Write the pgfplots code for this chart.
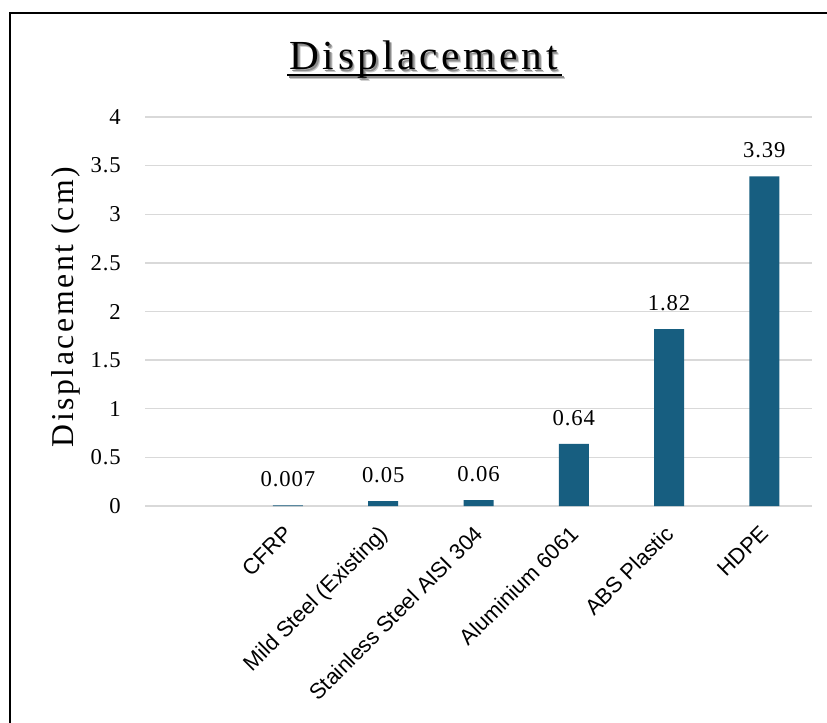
\documentclass[border=0pt]{standalone}
\usepackage{fontspec}
\setmainfont{Liberation Serif}
\newfontfamily\numfont[LetterSpace=4]{Liberation Serif}
\newfontfamily\titlefont[LetterSpace=9]{Liberation Serif}
\newfontfamily\labfont[LetterSpace=8]{Liberation Serif}
\newfontfamily\catfont{Liberation Sans}
\usepackage{pgfplots}
\pgfplotsset{compat=1.18}
\usepackage{pgfplotstable}
\definecolor{barblue}{HTML}{175E80}
\definecolor{gridgray}{HTML}{D9D9D9}
\pgfplotstableread{
x y lab
1 0.007 0.007
2 0.05 0.05
3 0.06 0.06
4 0.64 0.64
5 1.82 1.82
6 3.39 3.39
}\datatable
\begin{document}
\begin{tikzpicture}
\useasboundingbox (0,0) rectangle (620.25pt,541.5pt);
\fill[white] (0,0) rectangle (620.25pt,541.5pt);
\draw[line width=1.5pt] (7.5pt,-10pt) -- (7.5pt,531.75pt) -- (640pt,531.75pt);
\begin{axis}[
 at={(108.75pt,162pt)}, anchor=south west, scale only axis,
 width=500.25pt, height=291.75pt,
 xmin=-0.5, xmax=6.5, ymin=0, ymax=4,
 xtick={1,2,3,4,5,6},
 xticklabels={CFRP, Mild Steel (Existing), Stainless Steel AISI 304, Aluminium 6061, ABS Plastic, HDPE},
 ytick={0,0.5,1,1.5,2,2.5,3,3.5,4},
 ymajorgrids, grid style={gridgray, line width=1.1pt},
 axis line style={draw=none},
 major tick length=0pt,
 /pgf/number format/assume math mode=true,
 yticklabel style={font=\fontsize{17}{20}\selectfont\numfont, anchor=east, inner sep=0pt, xshift=-18pt},
 xticklabel style={font=\fontsize{16.4}{19}\selectfont\catfont, xshift=-4pt, yshift=-13.5pt, rotate=45, anchor=north east, inner sep=0pt},
 clip=false,
]
\addplot[ybar, bar width=22.5pt, fill=barblue, draw=none,
  point meta=explicit symbolic, nodes near coords,
  every node near coord/.append style={font=\fontsize{17}{20}\selectfont\numfont, anchor=base, yshift=14pt, inner sep=0pt, text=black}]
  table[x=x,y=y,meta=lab]{\datatable};
\end{axis}
% y axis label
\node[rotate=90, anchor=base, font=\fontsize{23.8}{26}\selectfont\labfont] at (54.75pt,311.25pt) {Displacement (cm)};
% title with shadow and underline
\node[anchor=base, font=\fontsize{31}{34}\selectfont\titlefont, text=black!22] at (319.6pt,486.9pt) {Displacement};
\draw[black!22, line width=1.3pt] (217.35pt,483.15pt) -- (423.6pt,483.15pt);
\node[anchor=base, font=\fontsize{31}{34}\selectfont\titlefont, text=black!45] at (318.9pt,487.6pt) {Displacement};
\draw[black!45, line width=1.1pt] (216.65pt,483.85pt) -- (422.9pt,483.85pt);
\node[anchor=base, font=\fontsize{31}{34}\selectfont\titlefont, text=black] at (317.6pt,489pt) {Displacement};
\draw[black, line width=1.1pt] (215.25pt,485.25pt) -- (421.5pt,485.25pt);
\end{tikzpicture}
\end{document}
